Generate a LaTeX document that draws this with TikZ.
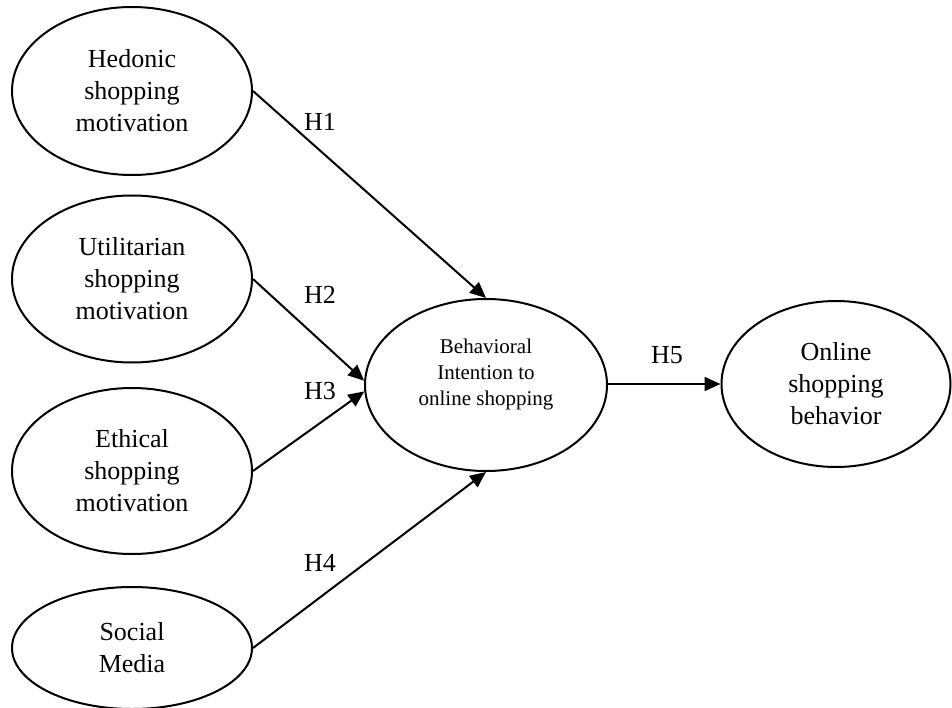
\documentclass[tikz,border=0pt]{standalone}
\usepackage{fontspec}
\setmainfont{Liberation Serif}
\usetikzlibrary{shapes.geometric,arrows.meta}
\begin{document}
\begin{tikzpicture}[x=1pt,y=-1pt,
  ell/.style={draw, ellipse, line width=2pt, inner sep=0pt, align=center,
    font=\fontsize{26}{32}\selectfont},
  conn/.style={line width=2pt, -{Triangle[length=16pt,width=14pt]}},
  hlab/.style={font=\fontsize{26}{32}\selectfont, inner sep=0pt}]
\useasboundingbox (0,0) rectangle (952,708);
\node[ell, minimum width=240pt, minimum height=168pt] (hed) at (132,91) {Hedonic\\shopping\\motivation};
\node[ell, minimum width=240pt, minimum height=167pt] (uti) at (132,279) {Utilitarian\\shopping\\motivation};
\node[ell, minimum width=240pt, minimum height=166pt] (eth) at (132,471) {Ethical\\shopping\\motivation};
\node[ell, minimum width=240pt, minimum height=122pt] (soc) at (132,648) {Social\\Media};
\node[ell, minimum width=242pt, minimum height=172pt, font=\fontsize{21}{26}\selectfont] (beh) at (486,385) {Behavioral\\Intention to\\online shopping\\ \mbox{}};
\node[ell, minimum width=229pt, minimum height=166pt] (onl) at (836,384) {Online\\shopping\\behavior};
\draw[conn] (hed.east) -- (beh.north);
\draw[conn] (uti.east) -- (beh.178);
\draw[conn] (eth.east) -- (beh.183);
\draw[conn] (soc.east) -- (beh.south);
\draw[conn] (beh.east |- onl.west) -- (onl.west);
\node[hlab] (h1) at (320,122) {H1};
\node[hlab] (h2) at (320,295) {H2};
\node[hlab] (h3) at (320,391) {H3};
\node[hlab] (h4) at (320,563) {H4};
\node[hlab] (h5) at (667,355) {H5};
\end{tikzpicture}
\end{document}
